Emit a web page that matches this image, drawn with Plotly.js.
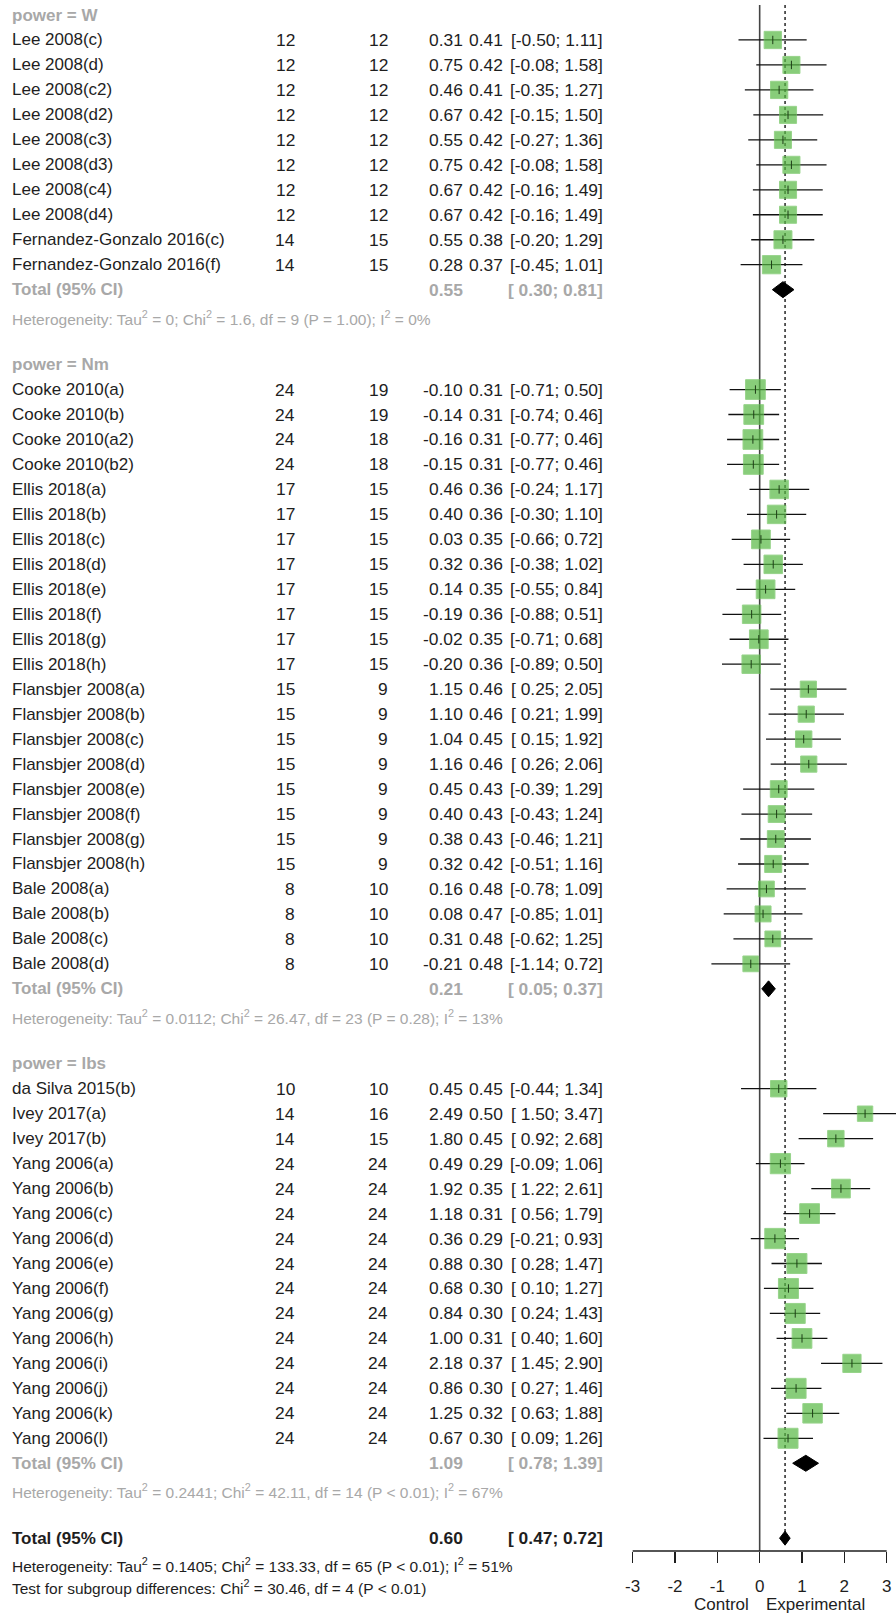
<!DOCTYPE html>
<html>
<head>
<meta charset="utf-8">
<script src="https://cdn.plot.ly/plotly-3.0.1.min.js"></script>
<style>html,body{margin:0;padding:0;background:#fff;}#chart{width:896px;height:1623px;}</style>
</head>
<body>
<div id="chart"></div>
<script>
// ---------------- data ----------------
const groupNames = ["power = W", "power = Nm", "power = lbs"];
const studyGroup = [0,0,0,0,0,0,0,0,0,0,
  1,1,1,1,1,1,1,1,1,1,1,1,1,1,1,1,1,1,1,1,1,1,1,1,
  2,2,2,2,2,2,2,2,2,2,2,2,2,2,2];
const studyLabels = [
  "Lee 2008(c)","Lee 2008(d)","Lee 2008(c2)","Lee 2008(d2)","Lee 2008(c3)","Lee 2008(d3)","Lee 2008(c4)","Lee 2008(d4)",
  "Fernandez-Gonzalo 2016(c)","Fernandez-Gonzalo 2016(f)",
  "Cooke 2010(a)","Cooke 2010(b)","Cooke 2010(a2)","Cooke 2010(b2)",
  "Ellis 2018(a)","Ellis 2018(b)","Ellis 2018(c)","Ellis 2018(d)","Ellis 2018(e)","Ellis 2018(f)","Ellis 2018(g)","Ellis 2018(h)",
  "Flansbjer 2008(a)","Flansbjer 2008(b)","Flansbjer 2008(c)","Flansbjer 2008(d)","Flansbjer 2008(e)","Flansbjer 2008(f)","Flansbjer 2008(g)","Flansbjer 2008(h)",
  "Bale 2008(a)","Bale 2008(b)","Bale 2008(c)","Bale 2008(d)",
  "da Silva 2015(b)","Ivey 2017(a)","Ivey 2017(b)",
  "Yang 2006(a)","Yang 2006(b)","Yang 2006(c)","Yang 2006(d)","Yang 2006(e)","Yang 2006(f)","Yang 2006(g)","Yang 2006(h)","Yang 2006(i)","Yang 2006(j)","Yang 2006(k)","Yang 2006(l)"
];
const nExperimental = [12,12,12,12,12,12,12,12,14,14,
  24,24,24,24,17,17,17,17,17,17,17,17,15,15,15,15,15,15,15,15,8,8,8,8,
  10,14,14,24,24,24,24,24,24,24,24,24,24,24,24];
const nControl = [12,12,12,12,12,12,12,12,15,15,
  19,19,18,18,15,15,15,15,15,15,15,15,9,9,9,9,9,9,9,9,10,10,10,10,
  10,16,15,24,24,24,24,24,24,24,24,24,24,24,24];
const smd = [0.31,0.75,0.46,0.67,0.55,0.75,0.67,0.67,0.55,0.28,
  -0.10,-0.14,-0.16,-0.15,0.46,0.40,0.03,0.32,0.14,-0.19,-0.02,-0.20,
  1.15,1.10,1.04,1.16,0.45,0.40,0.38,0.32,0.16,0.08,0.31,-0.21,
  0.45,2.49,1.80,0.49,1.92,1.18,0.36,0.88,0.68,0.84,1.00,2.18,0.86,1.25,0.67];
const seSmd = [0.41,0.42,0.41,0.42,0.42,0.42,0.42,0.42,0.38,0.37,
  0.31,0.31,0.31,0.31,0.36,0.36,0.35,0.36,0.35,0.36,0.35,0.36,
  0.46,0.46,0.45,0.46,0.43,0.43,0.43,0.42,0.48,0.47,0.48,0.48,
  0.45,0.50,0.45,0.29,0.35,0.31,0.29,0.30,0.30,0.30,0.31,0.37,0.30,0.32,0.30];
const ciLower = [-0.50,-0.08,-0.35,-0.15,-0.27,-0.08,-0.16,-0.16,-0.20,-0.45,
  -0.71,-0.74,-0.77,-0.77,-0.24,-0.30,-0.66,-0.38,-0.55,-0.88,-0.71,-0.89,
  0.25,0.21,0.15,0.26,-0.39,-0.43,-0.46,-0.51,-0.78,-0.85,-0.62,-1.14,
  -0.44,1.50,0.92,-0.09,1.22,0.56,-0.21,0.28,0.10,0.24,0.40,1.45,0.27,0.63,0.09];
const ciUpper = [1.11,1.58,1.27,1.50,1.36,1.58,1.49,1.49,1.29,1.01,
  0.50,0.46,0.46,0.46,1.17,1.10,0.72,1.02,0.84,0.51,0.68,0.50,
  2.05,1.99,1.92,2.06,1.29,1.24,1.21,1.16,1.09,1.01,1.25,0.72,
  1.34,3.47,2.68,1.06,2.61,1.79,0.93,1.47,1.27,1.43,1.60,2.90,1.46,1.88,1.26];
const groupSmd = [0.55, 0.21, 1.09];
const groupLower = [0.30, 0.05, 0.78];
const groupUpper = [0.81, 0.37, 1.39];
const groupHeterogeneity = [
  "Heterogeneity: Tau<sup>2</sup> = 0; Chi<sup>2</sup> = 1.6, df = 9 (P = 1.00); I<sup>2</sup> = 0%",
  "Heterogeneity: Tau<sup>2</sup> = 0.0112; Chi<sup>2</sup> = 26.47, df = 23 (P = 0.28); I<sup>2</sup> = 13%",
  "Heterogeneity: Tau<sup>2</sup> = 0.2441; Chi<sup>2</sup> = 42.11, df = 14 (P &lt; 0.01); I<sup>2</sup> = 67%"
];
const overallSmd = 0.60, overallLower = 0.47, overallUpper = 0.72;
const overallHeterogeneity = "Heterogeneity: Tau<sup>2</sup> = 0.1405; Chi<sup>2</sup> = 133.33, df = 65 (P &lt; 0.01); I<sup>2</sup> = 51%";
const subgroupTest = "Test for subgroup differences: Chi<sup>2</sup> = 30.46, df = 4 (P &lt; 0.01)";
const tauSquaredOverall = 0.1405;
const tickValues = [-3,-2,-1,0,1,2,3];
const tickLabels = ["-3","-2","-1","0","1","2","3"];
const sideLabels = ["Control", "Experimental"];
const sideLabelPos = [-0.9, 1.31];

// ---------------- layout geometry ----------------
const W = 896, H = 1623;
const ROW0 = 15, ROWH = 24.97;
const X0 = 759.67, XU = 42.33;       // pixel of x=0, pixels per unit
const AXIS_PX = 1551;
const rowOf = px => (px - ROW0) / ROWH;
const FONT = "Liberation Sans, Arial, sans-serif";
const GRAY = "#a8a8a8", BLACK = "#1e1e1e";
const FS = 17, FSN = 17.4, FSH = 15.5;
const COL = {label: 12, ne: 295, nc: 388, te: 463, se: 503, ci: 603};

const fmt = v => v.toFixed(2);
const fmtCI = (lo, hi) => "[" + (lo < 0 ? fmt(lo) : " " + fmt(lo)) + "; " + fmt(hi) + "]";

const annotations = [];
function txt(px, row, text, anchor, color, size, yshift) {
  annotations.push({
    xref: "paper", yref: "y", x: (anchor === "right" ? px + 2 : px - 2) / W, y: row,
    text: text, showarrow: false, xanchor: anchor, yanchor: "middle",
    font: {family: FONT, size: size || FS, color: color || BLACK},
    yshift: yshift || 0
  });
}

const traces = [];
const ciX = [], ciY = [], sqX = [], sqY = [], sqS = [];
let row = 0;
const groupRows = [];
for (let g = 0; g < groupNames.length; g++) {
  txt(COL.label, row, "<b>" + groupNames[g] + "</b>", "left", GRAY);
  row++;
  for (let i = 0; i < studyLabels.length; i++) {
    if (studyGroup[i] !== g) continue;
    txt(COL.label, row, studyLabels[i], "left");
    txt(COL.ne, row, String(nExperimental[i]), "right", BLACK, FSN);
    txt(COL.nc, row, String(nControl[i]), "right", BLACK, FSN);
    txt(COL.te, row, fmt(smd[i]), "right", BLACK, FSN);
    txt(COL.se, row, fmt(seSmd[i]), "right", BLACK, FSN);
    txt(COL.ci, row, fmtCI(ciLower[i], ciUpper[i]), "right", BLACK, FSN);
    ciX.push(ciLower[i], ciUpper[i], null); ciY.push(row, row, null);
    sqX.push(smd[i]); sqY.push(row);
    sqS.push(9.6 * Math.sqrt(1 / (seSmd[i] * seSmd[i] + tauSquaredOverall)));
    row++;
  }
  txt(COL.label, row, "<b>Total (95% CI)</b>", "left", GRAY);
  txt(COL.te, row, "<b>" + fmt(groupSmd[g]) + "</b>", "right", GRAY, FSN);
  txt(COL.ci, row, "<b>" + fmtCI(groupLower[g], groupUpper[g]) + "</b>", "right", GRAY, FSN);
  groupRows.push(row);
  row++;
  txt(COL.label, row + 0.12, groupHeterogeneity[g], "left", GRAY, FSH);
  row += 2;
}
const overallRow = row;
txt(COL.label, overallRow, "<b>Total (95% CI)</b>", "left", BLACK);
txt(COL.te, overallRow, "<b>" + fmt(overallSmd) + "</b>", "right", BLACK, FSN);
txt(COL.ci, overallRow, "<b>" + fmtCI(overallLower, overallUpper) + "</b>", "right", BLACK, FSN);
txt(COL.label, rowOf(1565), overallHeterogeneity, "left", BLACK, FSH);
txt(COL.label, rowOf(1587), subgroupTest, "left", BLACK, FSH);

// axis side labels
for (let k = 0; k < sideLabels.length; k++) {
  annotations.push({xref: "x", yref: "paper", x: sideLabelPos[k], y: 1 - 1604 / H,
    text: sideLabels[k], showarrow: false, xanchor: "center", yanchor: "middle",
    font: {family: FONT, size: FS, color: BLACK}});
}

const topRow = rowOf(5), axisRow = rowOf(AXIS_PX);

// reference lines
traces.push({x: [0, 0], y: [topRow, axisRow], mode: "lines", line: {color: "#444", width: 1.6},
  hoverinfo: "skip", showlegend: false});
traces.push({x: [overallSmd, overallSmd], y: [topRow, rowOf(1546)], mode: "lines",
  line: {color: "#333", width: 1.6, dash: "dot"}, hoverinfo: "skip", showlegend: false});
// axis line
traces.push({x: [tickValues[0], tickValues[tickValues.length - 1]], y: [axisRow, axisRow], mode: "lines",
  line: {color: BLACK, width: 1.3}, hoverinfo: "skip", showlegend: false});
// CI lines
traces.push({x: ciX, y: ciY, mode: "lines", line: {color: "#111", width: 1.3},
  hoverinfo: "skip", showlegend: false});
// squares
traces.push({x: sqX, y: sqY, mode: "markers", showlegend: false, hoverinfo: "skip",
  marker: {symbol: "square", size: sqS, color: "#56b843", line: {color: "#6cc25a", width: 1}}});
// point ticks
traces.push({x: sqX, y: sqY, mode: "markers", showlegend: false, hoverinfo: "skip",
  marker: {symbol: "line-ns", size: 6, line: {color: "#1f3d18", width: 1}}});
// diamonds
function diamond(te, lo, hi, r, h) {
  traces.push({x: [lo, te, hi, te, lo], y: [r, r - h, r, r + h, r], mode: "lines", fill: "toself",
    fillcolor: "#000", line: {color: "#000", width: 1}, hoverinfo: "skip", showlegend: false});
}
for (let g = 0; g < groupNames.length; g++) diamond(groupSmd[g], groupLower[g], groupUpper[g], groupRows[g], 0.32);
diamond(overallSmd, overallLower, overallUpper, overallRow, 0.28);

const layout = {
  width: W, height: H,
  margin: {l: 0, r: 0, t: 0, b: 0},
  paper_bgcolor: "#fff", plot_bgcolor: "#fff",
  showlegend: false,
  xaxis: {
    domain: [0, 1], range: [-X0 / XU, (W - X0) / XU],
    anchor: "free", position: 1 - AXIS_PX / H,
    showline: false, showgrid: false, zeroline: false,
    tickmode: "array", tickvals: tickValues, ticktext: tickLabels,
    ticks: "outside", ticklen: 11, tickwidth: 1.3, tickcolor: BLACK,
    ticklabelstandoff: 9,
    tickfont: {family: FONT, size: FS, color: BLACK}, fixedrange: true
  },
  yaxis: {range: [rowOf(H), rowOf(0)], visible: false, fixedrange: true},
  annotations: annotations
};
Plotly.newPlot("chart", traces, layout, {staticPlot: true});
</script>
</body>
</html>
